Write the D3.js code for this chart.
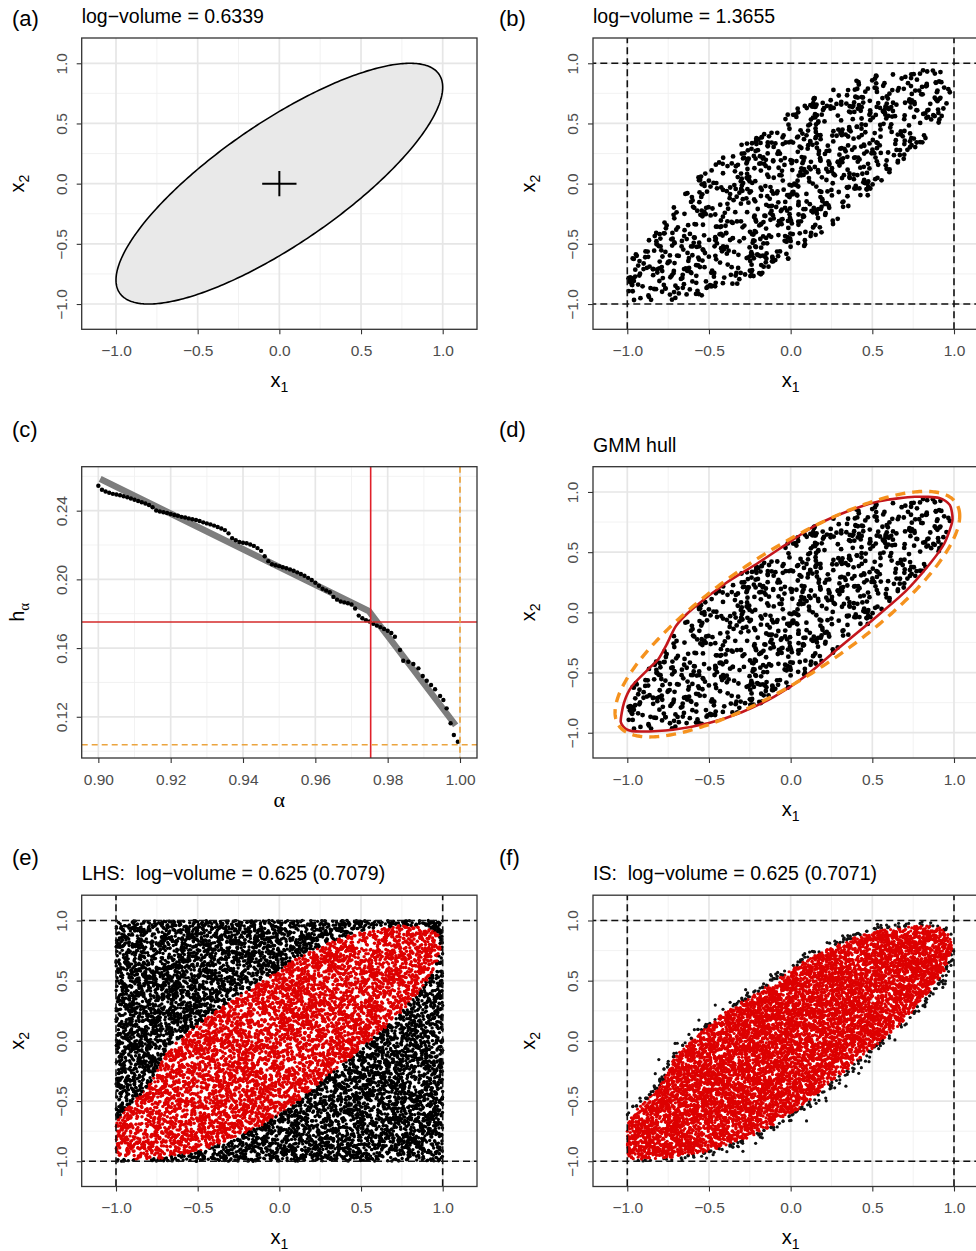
<!DOCTYPE html>
<html>
<head>
<meta charset="utf-8">
<script src="https://cdn.jsdelivr.net/npm/d3@7"></script>
<style>
  body { margin: 0; background: #fff; }
  text { font-family: "Liberation Sans", Arial, sans-serif; }
</style>
</head>
<body>
<div id="fig"></div>
<script>
// ---------- data ----------
var boxTicks = [-1.0, -0.5, 0.0, 0.5, 1.0];
var boxMinor = [-0.75, -0.25, 0.25, 0.75];
var boxDomain = [-1.21, 1.21];

var alphaTicks = [0.90, 0.92, 0.94, 0.96, 0.98, 1.00];
var alphaMinor = [0.91, 0.93, 0.95, 0.97, 0.99];
var hTicks = [0.12, 0.16, 0.20, 0.24];
var hMinor = [0.10, 0.14, 0.18, 0.22, 0.26];
var alphaDomain = [0.8954, 1.0047];
var hDomain = [0.096, 0.2656];

// target ellipse: covariance (var1, cov, var2)
var sigma = [1.0, 0.8, 1.0];
var crossHalf = 0.105;

// GMM hull (red contour)
var hullX = [0.99, 0.975, 0.91, 0.76, 0.55, 0.35, 0.15, 0.0, -0.2, -0.4, -0.6, -0.70, -0.76, -0.81, -0.87,
             -0.97, -1.02, -1.04, -1.0, -0.92, -0.72, -0.5, -0.3, -0.1, 0.1, 0.3, 0.5, 0.7, 0.85, 0.94];
var hullY = [0.76, 0.89, 0.95, 0.96, 0.925, 0.84, 0.72, 0.59, 0.41, 0.24, 0.03, -0.11, -0.27, -0.39, -0.47,
             -0.61, -0.75, -0.91, -0.975, -0.99, -0.975, -0.92, -0.83, -0.70, -0.52, -0.29, -0.065, 0.17, 0.40, 0.57];

// dashed orange ellipse (panel d)
var gmmCenter = [-0.02, -0.015];
var gmmScale = [1.055, 1.02];
var gmmRho = 0.8;

// panel (c): h_alpha curve
var alphaDots = [0.900, 0.901, 0.902, 0.903, 0.904, 0.905, 0.906, 0.907, 0.908, 0.909,
  0.910, 0.911, 0.912, 0.913, 0.914, 0.915, 0.916, 0.917, 0.918, 0.919,
  0.920, 0.921, 0.922, 0.923, 0.924, 0.925, 0.926, 0.927, 0.928, 0.929,
  0.930, 0.931, 0.932, 0.933, 0.934, 0.935, 0.936, 0.937, 0.938, 0.939,
  0.940, 0.941, 0.942, 0.943, 0.944, 0.945, 0.946, 0.947, 0.948, 0.949,
  0.950, 0.951, 0.952, 0.953, 0.954, 0.955, 0.956, 0.957, 0.958, 0.959,
  0.960, 0.961, 0.962, 0.963, 0.964, 0.965, 0.966, 0.967, 0.968, 0.969,
  0.970, 0.971, 0.972, 0.973, 0.974, 0.975, 0.976, 0.977, 0.978, 0.979,
  0.980, 0.981, 0.9820, 0.9834, 0.9843, 0.9857, 0.9871, 0.9885, 0.9897, 0.9908,
  0.9920, 0.9931, 0.9945, 0.9954, 0.9963, 0.9974, 0.9983, 0.9994];
var hDots = [0.2545, 0.2522, 0.2512, 0.2504, 0.2498, 0.2494, 0.2490, 0.2484, 0.2478, 0.2471,
  0.2464, 0.2456, 0.2449, 0.2442, 0.2433, 0.2420, 0.2401, 0.2395, 0.2391, 0.2386,
  0.2381, 0.2375, 0.2370, 0.2364, 0.2360, 0.2355, 0.2350, 0.2346, 0.2340, 0.2332,
  0.2326, 0.2320, 0.2313, 0.2305, 0.2296, 0.2287, 0.2268, 0.2240, 0.2228, 0.2218,
  0.2213, 0.2210, 0.2203, 0.2195, 0.2182, 0.2166, 0.2135, 0.2106, 0.2088, 0.2082,
  0.2077, 0.2071, 0.2065, 0.2058, 0.2050, 0.2041, 0.2031, 0.2021, 0.2009, 0.1996,
  0.1980, 0.1963, 0.1945, 0.1935, 0.1925, 0.1898, 0.1882, 0.1871, 0.1866, 0.1861,
  0.1854, 0.1830, 0.1789, 0.1774, 0.1762, 0.1755, 0.1741, 0.1731, 0.1722, 0.1711,
  0.1701, 0.1688, 0.1666, 0.1589, 0.1526, 0.1520, 0.1507, 0.1482, 0.1437, 0.1410,
  0.1385, 0.1360, 0.1321, 0.1298, 0.1249, 0.1162, 0.1094, 0.1055];
var alphaFit = [0.9005, 0.9748, 0.9988];
var hFit = [0.2585, 0.1815, 0.1150];
var alphaStar = 0.9753, hStar = 0.1752;
var alphaMax = 1.0, hMin = 0.1037;

// sample sizes of the point clouds
var nUniform = 1000, nLHS = 12000, nIS = 10000;

var titles = [["log\u2212volume = 0.6339", "log\u2212volume = 1.3655"],
              ["", "GMM hull"],
              ["LHS:  log\u2212volume = 0.625 (0.7079)", "IS:  log\u2212volume = 0.625 (0.7071)"]];
var tags = [["(a)", "(b)"], ["(c)", "(d)"], ["(e)", "(f)"]];

// ---------- layout ----------
var FONT = '"Liberation Sans", Arial, sans-serif';
var colX = [0, 511.3];
var rowY = [0, 428.7, 857.2];
var plotLeft = 81.7, plotTop = 38, plotW = 395.3, plotH = 291.3;
var tagX = [12, 499], tagY = [26, 436.5, 865], titleY = [22.5, 451.5, 880];

var svg = d3.select("#fig").append("svg")
  .attr("width", 976).attr("height", 1251)
  .style("background", "#fff");

var fmt1 = d3.format(".1f"), fmt2 = d3.format(".2f");
var hullPoly = hullX.map(function(d, i) { return [d, hullY[i]]; });

function panel(col, row, xDom, yDom, xt, yt, xm, ym, fmt) {
  var ox = colX[col] + plotLeft, oy = rowY[row] + plotTop;
  var g = svg.append("g").attr("transform", "translate(" + ox + "," + oy + ")");
  var x = d3.scaleLinear().domain(xDom).range([0, plotW]);
  var y = d3.scaleLinear().domain(yDom).range([plotH, 0]);
  var id = "clip" + col + row;
  g.append("clipPath").attr("id", id).append("rect").attr("width", plotW).attr("height", plotH);

  // minor then major grid
  g.selectAll(".gxm").data(xm).enter().append("line")
    .attr("x1", d => x(d)).attr("x2", d => x(d)).attr("y1", 0).attr("y2", plotH)
    .attr("stroke", "#f0f0f0").attr("stroke-width", 0.9);
  g.selectAll(".gym").data(ym).enter().append("line")
    .attr("y1", d => y(d)).attr("y2", d => y(d)).attr("x1", 0).attr("x2", plotW)
    .attr("stroke", "#f0f0f0").attr("stroke-width", 0.9);
  g.selectAll(".gx").data(xt).enter().append("line")
    .attr("x1", d => x(d)).attr("x2", d => x(d)).attr("y1", 0).attr("y2", plotH)
    .attr("stroke", "#e6e6e6").attr("stroke-width", 1.7);
  g.selectAll(".gy").data(yt).enter().append("line")
    .attr("y1", d => y(d)).attr("y2", d => y(d)).attr("x1", 0).attr("x2", plotW)
    .attr("stroke", "#e6e6e6").attr("stroke-width", 1.7);

  var body = g.append("g").attr("clip-path", "url(#" + id + ")");

  g.append("rect").attr("width", plotW).attr("height", plotH)
    .attr("fill", "none").attr("stroke", "#333").attr("stroke-width", 1.3);

  // axes
  var ax = g.append("g").attr("transform", "translate(0," + plotH + ")")
    .call(d3.axisBottom(x).tickValues(xt).tickFormat(fmt).tickSize(5));
  ax.attr("font-family", FONT).attr("font-size", 15.5);
  ax.select(".domain").remove();
  ax.selectAll("line").attr("stroke", "#333").attr("stroke-width", 1.1);
  ax.selectAll("text").attr("y", 26.5).attr("dy", null).attr("fill", "#4d4d4d");

  var ay = g.append("g")
    .call(d3.axisLeft(y).tickValues(yt).tickFormat(fmt).tickSize(5));
  ay.attr("font-family", FONT).attr("font-size", 15.5);
  ay.select(".domain").remove();
  ay.selectAll("line").attr("stroke", "#333").attr("stroke-width", 1.1);
  ay.selectAll("text").attr("transform", "rotate(-90)")
    .attr("x", 0).attr("y", -14.7).attr("dy", null)
    .attr("text-anchor", "middle").attr("fill", "#4d4d4d");

  // tag and title
  svg.append("text").attr("x", tagX[col]).attr("y", tagY[row])
    .attr("font-size", 22).text(tags[row][col]);
  if (titles[row][col]) {
    svg.append("text").attr("x", ox).attr("y", titleY[row])
      .attr("font-size", 19.5).style("white-space", "pre").text(titles[row][col]);
  }
  return { g: g, body: body, x: x, y: y, ox: ox, oy: oy };
}

function xTitle(p, main, sub, off, serif) {
  var t = svg.append("text").attr("x", p.ox + plotW / 2).attr("y", p.oy + plotH + off)
    .attr("text-anchor", "middle").attr("font-size", 20);
  if (serif) t.style("font-family", '"Liberation Serif", "DejaVu Serif", serif').attr("font-size", 22);
  t.append("tspan").text(main);
  if (sub) t.append("tspan").attr("dy", 5).attr("font-size", 14).text(sub);
}
function yTitle(p, main, sub, subSerif) {
  var t = svg.append("text")
    .attr("transform", "translate(" + (p.ox - 58) + "," + (p.oy + plotH / 2) + ") rotate(-90)")
    .attr("text-anchor", "middle").attr("font-size", 20);
  t.append("tspan").text(main);
  var s = t.append("tspan").attr("dy", 5).attr("font-size", 14).text(sub);
  if (subSerif) s.style("font-family", '"Liberation Serif", serif').attr("font-size", 15);
}

function dashBox(p) {
  var lines = [[-1, -1.3, -1, 1.3], [1, -1.3, 1, 1.3], [-1.3, -1, 1.3, -1], [-1.3, 1, 1.3, 1]];
  p.body.selectAll(".dash").data(lines).enter().append("line")
    .attr("x1", d => p.x(d[0])).attr("y1", d => p.y(d[1]))
    .attr("x2", d => p.x(d[2])).attr("y2", d => p.y(d[3]))
    .attr("stroke", "#111").attr("stroke-width", 1.6).attr("stroke-dasharray", "7,4");
}

// ---------- point clouds (seeded sampling of the regions above) ----------
var rng = d3.randomLcg(0.4217);
var normal = d3.randomNormal.source(rng)(0, 1);
function inHull(px, py) { return d3.polygonContains(hullPoly, [px, py]); }
function sampleHull() {
  while (true) {
    var px = -1.05 + 2.05 * rng(), py = -1 + 2 * rng();
    if (inHull(px, py)) return [px, py];
  }
}
var uniformPts = [];
while (uniformPts.length < nUniform) {
  var q = sampleHull();
  if (Math.abs(q[0]) <= 1 && Math.abs(q[1]) <= 1) uniformPts.push(q);
}
var shuffle = d3.shuffler(rng);
var permX = shuffle(d3.range(nLHS)), permY = shuffle(d3.range(nLHS));
var lhsPts = permX.map(function(px, i) {
  var a = -1 + 2 * (px + rng()) / nLHS, b = -1 + 2 * (permY[i] + rng()) / nLHS;
  return [a, b, inHull(a, b)];
});
var isPts = [];
while (isPts.length < nIS) {
  var base = sampleHull();
  var s = rng() < 0.88 ? 0.024 : 0.065;
  var a = base[0] + s * normal(), b = base[1] + s * normal();
  if (Math.abs(a) <= 1 && Math.abs(b) <= 1) isPts.push([a, b, inHull(a, b)]);
}

// ---------- (a) ----------
var pa = panel(0, 0, boxDomain, boxDomain, boxTicks, boxTicks, boxMinor, boxMinor, fmt1);
var sdY = Math.sqrt(sigma[2] - sigma[1] * sigma[1] / sigma[0]);
var ellLine = d3.line()
  .x(t => pa.x(Math.sqrt(sigma[0]) * Math.cos(t)))
  .y(t => pa.y(sigma[1] / Math.sqrt(sigma[0]) * Math.cos(t) + sdY * Math.sin(t)));
var angles = d3.range(0, 2 * Math.PI + 0.01, Math.PI / 180);
pa.body.append("path").attr("d", ellLine(angles) + "Z")
  .attr("fill", "#e9e9e9").attr("stroke", "#000").attr("stroke-width", 1.6);
pa.body.append("line").attr("x1", pa.x(-crossHalf)).attr("x2", pa.x(crossHalf))
  .attr("y1", pa.y(0)).attr("y2", pa.y(0)).attr("stroke", "#000").attr("stroke-width", 2);
pa.body.append("line").attr("x1", pa.x(0)).attr("x2", pa.x(0))
  .attr("y1", pa.y(-crossHalf)).attr("y2", pa.y(crossHalf)).attr("stroke", "#000").attr("stroke-width", 2);
xTitle(pa, "x", "1", 58);
yTitle(pa, "x", "2");

// ---------- (b) ----------
var pb = panel(1, 0, boxDomain, boxDomain, boxTicks, boxTicks, boxMinor, boxMinor, fmt1);
pb.body.selectAll("circle").data(uniformPts).enter().append("circle")
  .attr("cx", d => pb.x(d[0])).attr("cy", d => pb.y(d[1])).attr("r", 2.4).attr("fill", "#000");
dashBox(pb);
xTitle(pb, "x", "1", 58);
yTitle(pb, "x", "2");

// ---------- (c) ----------
var pc = panel(0, 1, alphaDomain, hDomain, alphaTicks, hTicks, alphaMinor, hMinor, fmt2);
pc.body.append("path")
  .attr("d", d3.line().x(d => pc.x(d)).y((d, i) => pc.y(hFit[i]))(alphaFit))
  .attr("fill", "none").attr("stroke", "#7d7d7d").attr("stroke-width", 6.5);
pc.body.selectAll("circle").data(alphaDots).enter().append("circle")
  .attr("cx", d => pc.x(d)).attr("cy", (d, i) => pc.y(hDots[i])).attr("r", 2.2).attr("fill", "#000");
pc.body.append("line").attr("x1", pc.x(alphaStar)).attr("x2", pc.x(alphaStar))
  .attr("y1", 0).attr("y2", plotH).attr("stroke", "#e0202a").attr("stroke-width", 1.6);
pc.body.append("line").attr("x1", 0).attr("x2", plotW)
  .attr("y1", pc.y(hStar)).attr("y2", pc.y(hStar)).attr("stroke", "#d42a2a").attr("stroke-width", 1.6);
pc.body.append("line").attr("x1", pc.x(alphaMax)).attr("x2", pc.x(alphaMax))
  .attr("y1", 0).attr("y2", plotH).attr("stroke", "#eba43e").attr("stroke-width", 1.7)
  .attr("stroke-dasharray", "6,4");
pc.body.append("line").attr("x1", 0).attr("x2", plotW)
  .attr("y1", pc.y(hMin)).attr("y2", pc.y(hMin)).attr("stroke", "#eba43e").attr("stroke-width", 1.7)
  .attr("stroke-dasharray", "6,4");
xTitle(pc, "\u03b1", null, 49, true);
yTitle(pc, "h", "\u03b1", true);

// ---------- (d) ----------
var pd = panel(1, 1, boxDomain, boxDomain, boxTicks, boxTicks, boxMinor, boxMinor, fmt1);
pd.body.selectAll("circle").data(uniformPts).enter().append("circle")
  .attr("cx", d => pd.x(d[0])).attr("cy", d => pd.y(d[1])).attr("r", 2.4).attr("fill", "#000");
pd.body.append("path")
  .attr("d", d3.line().x(d => pd.x(d[0])).y(d => pd.y(d[1])).curve(d3.curveCardinalClosed.tension(0.3))(hullPoly))
  .attr("fill", "none").attr("stroke", "#c4161c").attr("stroke-width", 2.6);
var gmmLine = d3.line()
  .x(t => pd.x(gmmCenter[0] + gmmScale[0] * Math.cos(t)))
  .y(t => pd.y(gmmCenter[1] + gmmScale[1] * (gmmRho * Math.cos(t) + Math.sqrt(1 - gmmRho * gmmRho) * Math.sin(t))));
pd.body.append("path").attr("d", gmmLine(angles) + "Z")
  .attr("fill", "none").attr("stroke", "#f5921e").attr("stroke-width", 3.4)
  .attr("stroke-dasharray", "10,7");
xTitle(pd, "x", "1", 58);
yTitle(pd, "x", "2");

// ---------- (e) ----------
var pe = panel(0, 2, boxDomain, boxDomain, boxTicks, boxTicks, boxMinor, boxMinor, fmt1);
pe.body.selectAll("circle").data(lhsPts).enter().append("circle")
  .attr("cx", d => pe.x(d[0])).attr("cy", d => pe.y(d[1])).attr("r", 1.7)
  .attr("fill", d => d[2] ? "#dd0000" : "#000");
dashBox(pe);
xTitle(pe, "x", "1", 57);
yTitle(pe, "x", "2");

// ---------- (f) ----------
var pf = panel(1, 2, boxDomain, boxDomain, boxTicks, boxTicks, boxMinor, boxMinor, fmt1);
pf.body.selectAll("circle").data(isPts).enter().append("circle")
  .attr("cx", d => pf.x(d[0])).attr("cy", d => pf.y(d[1])).attr("r", 1.6)
  .attr("fill", d => d[2] ? "#dd0000" : "#111");
dashBox(pf);
xTitle(pf, "x", "1", 57);
yTitle(pf, "x", "2");
</script>
</body>
</html>
